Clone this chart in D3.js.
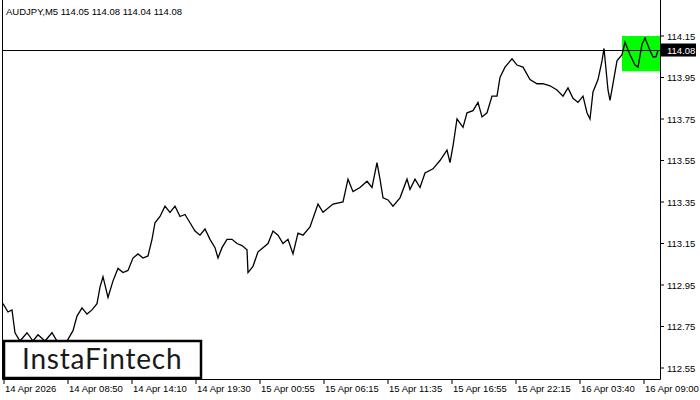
<!DOCTYPE html>
<html><head><meta charset="utf-8">
<script src="https://cdn.jsdelivr.net/npm/d3@7"></script>
<style>body{margin:0;background:#fff}svg{display:block;font-family:"Liberation Sans",Arial,sans-serif}</style>
</head><body><svg id="c" width="700" height="400"></svg>
<script>
// bar index (5 min bars) and close prices
var bars = [-1,4,8,11,16,23,29,34,41,48,53,63,69,73,78,83,88,93,96,99,104,109,114,119,124,129,134,139,144,148,151,156,161,166,171,176,181,186,191,196,201,206,211,214,218,223,228,233,238,243,244,249,254,259,264,269,274,279,284,289,294,299,306,314,319,329,339,344,349,356,363,368,373,376,379,384,389,396,403,406,411,416,421,429,436,443,446,449,453,456,459,463,469,474,478,483,488,493,496,501,508,513,519,526,533,539,546,553,559,564,569,574,579,583,586,589,594,598,600,602,604,606,609,613,618,621,626,631,634,638,641,646,649,652,654];
var prices = [112.86,112.82,112.83,112.72,112.68,112.72,112.68,112.71,112.68,112.72,112.68,112.68,112.73,112.80,112.84,112.81,112.83,112.86,112.94,112.99,112.89,112.97,113.03,113.01,113.02,113.08,113.10,113.08,113.09,113.17,113.25,113.28,113.33,113.30,113.33,113.28,113.29,113.25,113.21,113.19,113.22,113.17,113.13,113.08,113.13,113.17,113.17,113.15,113.14,113.12,113.01,113.04,113.11,113.13,113.15,113.21,113.19,113.15,113.17,113.10,113.20,113.19,113.23,113.34,113.30,113.34,113.35,113.46,113.40,113.42,113.45,113.42,113.54,113.46,113.37,113.36,113.33,113.37,113.46,113.41,113.46,113.42,113.49,113.51,113.55,113.60,113.54,113.62,113.75,113.73,113.71,113.78,113.79,113.83,113.76,113.78,113.86,113.86,113.95,114.00,114.04,114.01,114.00,113.94,113.92,113.92,113.91,113.89,113.86,113.90,113.85,113.83,113.86,113.78,113.75,113.88,113.94,114.03,114.09,113.99,113.89,113.84,113.92,114.03,114.06,114.12,114.06,114.01,114.00,114.11,114.14,114.08,114.05,114.05,114.08];
var priceTicks = [114.15,113.95,113.75,113.55,113.35,113.15,112.95,112.75,112.55];
var timeLabels = ['14 Apr 2026','14 Apr 08:50','14 Apr 14:10','14 Apr 19:30','15 Apr 00:55','15 Apr 06:15','15 Apr 11:35','15 Apr 16:55','15 Apr 22:15','16 Apr 03:40','16 Apr 09:00'];
var lastPrice = 114.08;
var boxHi = 114.15, boxLo = 113.98, boxFrom = 618;

var svg = d3.select('#c');
var x = d3.scaleLinear().domain([0,656]).range([4,660]);
var y = d3.scaleLinear().domain([112.55,114.15]).range([368,36]);

svg.append('text').attr('x',6).attr('y',15).style('font-size','9.5px')
	.text('AUDJPY,M5  114.05 114.08 114.04 114.08');

// green zone
svg.append('rect').attr('x',x(boxFrom)).attr('y',y(boxHi))
	.attr('width',x(656)-x(boxFrom)).attr('height',y(boxLo)-y(boxHi))
	.style('fill','#00ff00');

// current price line
svg.append('line').attr('x1',2).attr('x2',660).attr('y1',y(lastPrice)).attr('y2',y(lastPrice))
	.style('stroke','#000').style('stroke-width',1);

var line = d3.line().x(function(d,i){return x(bars[i]);}).y(function(d){return y(d);});
svg.append('path').datum(prices).attr('d',line)
	.style('fill','none').style('stroke','#000').style('stroke-width',1.3);

// frame
svg.append('path').attr('d','M2.5,0V379.5H660.5V0').style('fill','none').style('stroke','#000');

// price axis
var yg = svg.append('g').attr('transform','translate(660,0)');
priceTicks.forEach(function(p){
	yg.append('line').attr('x1',0).attr('x2',4).attr('y1',y(p)).attr('y2',y(p)).style('stroke','#000');
	yg.append('text').attr('x',7).attr('y',y(p)+3.5).style('font-size','9.5px').text(p.toFixed(2));
});
yg.append('rect').attr('x',1).attr('y',y(lastPrice)-7).attr('width',35).attr('height',13).style('fill','#000');
yg.append('text').attr('x',7).attr('y',y(lastPrice)+3.5).style('font-size','9.5px').style('fill','#fff').text(lastPrice.toFixed(2));

// time axis
timeLabels.forEach(function(t,i){
	var px = x(i*64);
	svg.append('line').attr('x1',px).attr('x2',px).attr('y1',379).attr('y2',384).style('stroke','#000');
	svg.append('text').attr('x',px+1).attr('y',392).style('font-size','9.5px').text(t);
});

// logo
svg.append('rect').attr('x',4).attr('y',341).attr('width',197).attr('height',37)
	.style('fill','#fff').style('stroke','#000').style('stroke-width',2.5);
svg.append('text').attr('x',22).attr('y',369).style('font-family','Lato, "Open Sans", sans-serif')
	.style('font-size','28px').style('letter-spacing','0.8px').style('fill','#1a1a1a').text('InstaFintech');
</script></body></html>
